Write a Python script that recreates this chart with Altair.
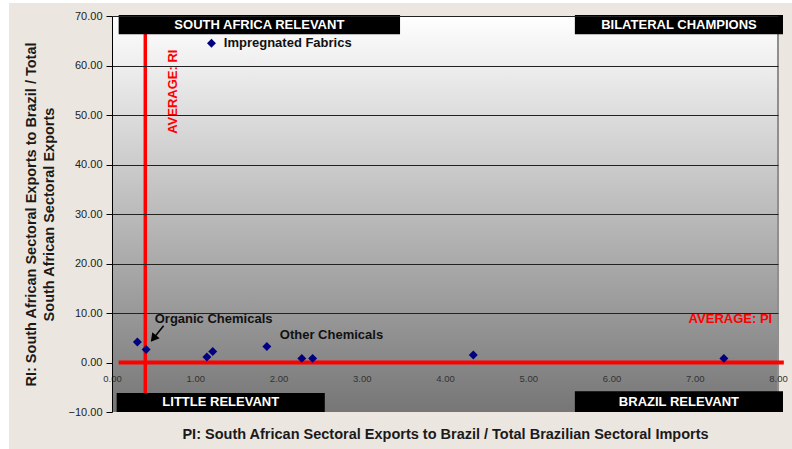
import altair as alt
import pandas as pd

# ---------------- data ----------------
sector_pi = [1.195, 0.305, 0.41, 1.14, 1.21, 1.86, 2.28, 2.41, 4.34, 7.35]
sector_ri = [64.5, 4.14, 2.64, 1.11, 2.24, 3.25, 0.83, 0.83, 1.51, 0.83]

label_text = ["Impregnated Fabrics", "Organic Chemicals", "Other Chemicals"]
label_x = [1.343, 0.513, 2.016]
label_y = [64.5, 8.78, 5.55]

quad_text = ["SOUTH AFRICA RELEVANT", "BILATERAL CHAMPIONS", "LITTLE RELEVANT", "BRAZIL RELEVANT"]
quad_x0 = [0.08, 5.56, 0.056, 5.56]
quad_x1 = [3.46, 8.06, 2.556, 8.06]
quad_y0 = [66.3, 66.3, -10.0, -10.0]
quad_y1 = [70.2, 70.2, -6.16, -5.83]

avg_ri_line_x = 0.40   # vertical line labelled AVERAGE: RI
avg_pi_line_y = 0.0    # horizontal line labelled AVERAGE: PI

x_ticks = [0, 1, 2, 3, 4, 5, 6, 7, 8]
y_ticks = [-10, 0, 10, 20, 30, 40, 50, 60, 70]
grid_ticks = [10, 20, 30, 40, 50, 60, 70]

x_title = "PI: South African Sectoral Exports to Brazil / Total Brazilian Sectoral Imports"
y_title = ["RI: South African Sectoral Exports to Brazil / Total", "South African Sectoral Exports"]

FONT = "Liberation Sans"

xs = alt.Scale(domain=[0, 8], nice=False, zero=False)
ys = alt.Scale(domain=[-10, 70], nice=False, zero=False)

points_df = pd.DataFrame({"pi": sector_pi, "ri": sector_ri})
labels_df = pd.DataFrame({"t": label_text, "x": label_x, "y": label_y})
quad_df = pd.DataFrame({"t": quad_text, "x0": quad_x0, "x1": quad_x1, "y0": quad_y0, "y1": quad_y1})
quad_df["xm"] = (quad_df.x0 + quad_df.x1) / 2
quad_df["ym"] = (quad_df.y0 + quad_df.y1) / 2

# chart-area beige panel
panel = alt.Chart(alt.Data(values=[{}])).mark_rect(color="#EBE7E0").encode(
    x=alt.value(-103), x2=alt.value(680), y=alt.value(-13), y2=alt.value(433)
)

# plot-area gradient with the main axes
grad = alt.Gradient(
    gradient="linear",
    stops=[alt.GradientStop(color="#ffffff", offset=0), alt.GradientStop(color="#767676", offset=1)],
    x1=0, x2=0, y1=0, y2=1,
)
plot_bg = alt.Chart(pd.DataFrame({"x0": [0], "x1": [8], "y0": [-10], "y1": [70]})).mark_rect(
    color=grad
).encode(
    x=alt.X("x0:Q", scale=xs, axis=alt.Axis(
        values=x_ticks, format=".2f", title=x_title, grid=False, domain=False, ticks=False,
        offset=-49.5, labelPadding=11, labelFontSize=9.5, labelColor="#333333", labelFont=FONT,
        titleFont=FONT, titleFontSize=14.5, titleFontWeight="bold", titleColor="#1a1a1a",
        titleY=72, titleBaseline="middle", zindex=1, labelFlush=False, orient="bottom")),
    x2="x1:Q",
    y=alt.Y("y0:Q", scale=ys, axis=alt.Axis(
        values=y_ticks, format=".2f", title=y_title, grid=False, domain=True, domainColor="#000000",
        tickColor="#000000", tickSize=6, labelPadding=4, labelFontSize=11, labelColor="#222222",
        labelFont=FONT, titleFont=FONT, titleFontSize=14.5, titleFontWeight="bold", titleColor="#1a1a1a",
        titleLineHeight=18, titlePadding=12, zindex=1, orient="left", labelFlush=False)),
    y2="y1:Q",
)

border = alt.Chart(pd.DataFrame({"x": [8], "y0": [-10], "y1": [70]})).mark_rule(
    color="#8f8f8f", strokeWidth=2
).encode(x=alt.X("x:Q", scale=xs, axis=None), y=alt.Y("y0:Q", scale=ys, axis=None), y2="y1:Q")

red_v = alt.Chart(pd.DataFrame({"x": [avg_ri_line_x], "y0": [-10], "y1": [70]})).mark_rule(
    color="#FF0000", strokeWidth=3.5
).encode(x=alt.X("x:Q", scale=xs, axis=None), y=alt.Y("y0:Q", scale=ys, axis=None), y2="y1:Q")

red_h = alt.Chart(pd.DataFrame({"x0": [0.08], "x1": [8.07], "y": [avg_pi_line_y]})).mark_rule(
    color="#FF0000", strokeWidth=4
).encode(x=alt.X("x0:Q", scale=xs, axis=None), x2="x1:Q", y=alt.Y("y:Q", scale=ys, axis=None))

avg_ri_txt = alt.Chart(pd.DataFrame({"x": [0.73], "y": [54.7], "t": ["AVERAGE: RI"]})).mark_text(
    color="#FF0000", font=FONT, fontSize=13, fontWeight="bold", angle=270, align="center", baseline="middle"
).encode(x=alt.X("x:Q", scale=xs, axis=None), y=alt.Y("y:Q", scale=ys, axis=None), text="t:N")

avg_pi_txt = alt.Chart(pd.DataFrame({"x": [7.93], "y": [8.84], "t": ["AVERAGE: PI"]})).mark_text(
    color="#FF0000", font=FONT, fontSize=13, fontWeight="bold", align="right", baseline="middle"
).encode(x=alt.X("x:Q", scale=xs, axis=None), y=alt.Y("y:Q", scale=ys, axis=None), text="t:N")

pts = alt.Chart(points_df).mark_point(shape="diamond", filled=True, color="#000080", size=80, opacity=1).encode(
    x=alt.X("pi:Q", scale=xs, axis=None),
    y=alt.Y("ri:Q", scale=ys, axis=alt.Axis(values=grid_ticks, grid=True, gridColor="#222222",
                                           gridWidth=1, labels=False, ticks=False, domain=False,
                                           title=None, orient="right", zindex=1)),
)

lbls = alt.Chart(labels_df).mark_text(
    font=FONT, fontSize=13, fontWeight="bold", align="left", baseline="middle", color="#111111"
).encode(x=alt.X("x:Q", scale=xs, axis=None), y=alt.Y("y:Q", scale=ys, axis=None), text="t:N")

arrow_line = alt.Chart(pd.DataFrame({"x0": [0.62], "y0": [7.43], "x1": [0.497], "y1": [4.86]})).mark_rule(
    color="#000000", strokeWidth=1.5
).encode(x=alt.X("x0:Q", scale=xs, axis=None), y=alt.Y("y0:Q", scale=ys, axis=None), x2="x1:Q", y2="y1:Q")

arrow_head = alt.Chart(pd.DataFrame({"x": [0.497], "y": [4.86]})).mark_point(
    shape="triangle-up", filled=True, color="#000000", size=90, angle=219, opacity=1
).encode(x=alt.X("x:Q", scale=xs, axis=None), y=alt.Y("y:Q", scale=ys, axis=None))

boxes = alt.Chart(quad_df).mark_rect(color="#000000").encode(
    x=alt.X("x0:Q", scale=xs, axis=None), x2="x1:Q", y=alt.Y("y0:Q", scale=ys, axis=None), y2="y1:Q"
)
box_txt = alt.Chart(quad_df).mark_text(
    color="#ffffff", font=FONT, fontSize=13, fontWeight="bold", align="center", baseline="middle"
).encode(x=alt.X("xm:Q", scale=xs, axis=None), y=alt.Y("ym:Q", scale=ys, axis=None), text="t:N")

chart = alt.layer(
    panel, plot_bg, border, red_v, red_h, avg_ri_txt, avg_pi_txt, pts, lbls,
    arrow_line, arrow_head, boxes, box_txt
).resolve_axis(x="independent", y="independent").properties(
    width=666, height=396,
    autosize=alt.AutoSizeParams(type="none"),
    padding={"left": 112, "top": 16, "right": 14, "bottom": 37},
    background="#ffffff",
).configure_view(strokeWidth=0)

chart.save("out.html", embed_options={"renderer": "svg", "actions": False})
